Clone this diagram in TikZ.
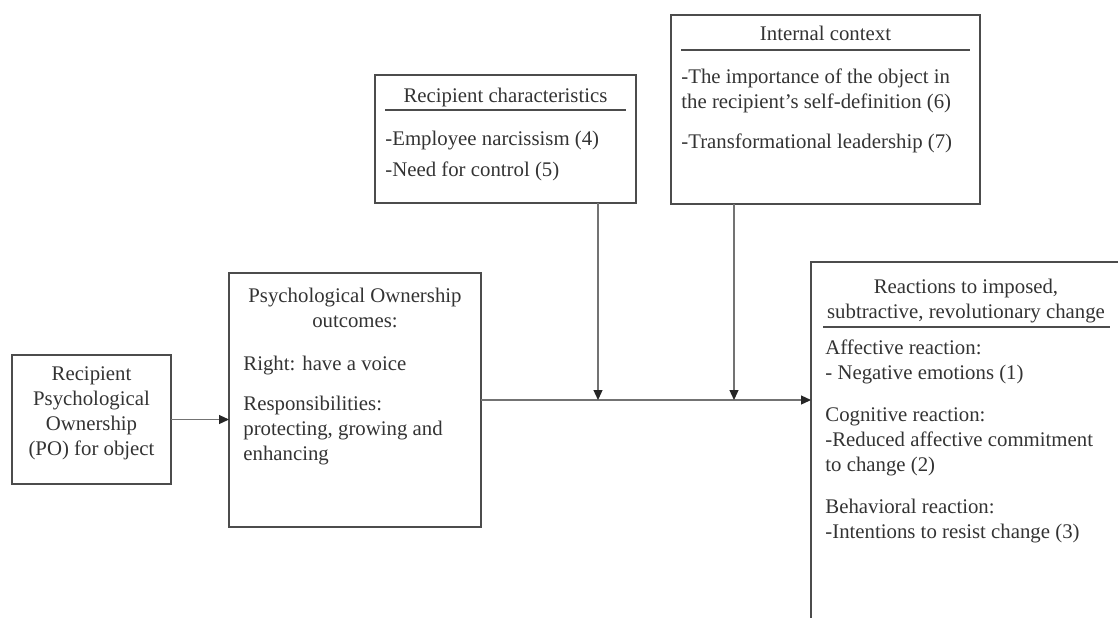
\documentclass[tikz,border=0pt]{standalone}
\usepackage{fontspec}
\setmainfont{Liberation Serif}
\usetikzlibrary{arrows.meta,fit}
\definecolor{linegray}{gray}{0.3}
\definecolor{arrowgray}{gray}{0.45}
\definecolor{textgray}{gray}{0.2}

\begin{document}
\begin{tikzpicture}[
    x=0.5pt, y=-0.5pt,
    box/.style={draw=linegray, line width=0.7pt, inner sep=0pt, outer sep=0pt},
    txt/.style={text=textgray, inner sep=0pt, font=\fontsize{10.4}{12.5}\selectfont},
    heading/.style={txt, align=center, anchor=north},
    items/.style={txt, align=left, anchor=north west},
    rule/.style={draw=linegray, line width=0.6pt},
    arrow/.style={draw=arrowgray, line width=0.6pt,
        -{Triangle[length=5pt,width=4.5pt,color=black!85]}}
]
\useasboundingbox (0,0) rectangle (1118,617);
\clip (0,0) rectangle (1118,617);

% ownership of the object
\node[box, fit={(12,355) (171,484)}] (po) {};
\node[heading] (potext) at (91.5,366) {Recipient\\Psychological\\Ownership\\(PO) for object};

% outcomes of ownership
\node[box, fit={(229,273) (481,527)}] (outcomes) {};
\node[heading] (outhead) at (355,288) {Psychological Ownership\\outcomes:};
\node[items] (outbody) at (243,356) {Right: have a voice\\[7.5pt]
    Responsibilities:\\protecting, growing and\\enhancing};

% moderators
\node[box, fit={(375,75) (636,203)}] (chars) {};
\node[heading] (charshead) at (505.5,88) {Recipient characteristics};
\draw[rule] (385,110) -- (626,110);
\node[items] (charsbody) at (385,131) {-Employee narcissism (4)\\[3pt] -Need for control (5)};

\node[box, fit={(671,15) (980,204)}] (context) {};
\node[heading] (contexthead) at (825.5,26) {Internal context};
\draw[rule] (681,50) -- (970,50);
\node[items] (contextbody) at (681,68) {-The importance of the object in\\the recipient’s self-definition (6)\\[7.5pt]
    -Transformational leadership (7)};

% reactions
\node[box, fit={(811,262) (1140,640)}] (reactions) {};
\node[heading] (reacthead) at (966,279) {Reactions to imposed,\\subtractive, revolutionary change};
\draw[rule] (823,327) -- (1110,327);
\node[items] (reactbody) at (825,339) {Affective reaction:\\- Negative emotions (1)\\[8.5pt]
    Cognitive reaction:\\-Reduced affective commitment\\to change (2)\\[8.5pt]
    Behavioral reaction:\\-Intentions to resist change (3)};

\coordinate (m1) at (598,400);
\coordinate (m2) at (734,400);

\draw[arrow] (po.east) -- (po.east -| outcomes.west);
\draw[arrow] (outcomes.east) -- (outcomes.east -| reactions.west);
\draw[arrow] (chars.south -| m1) -- (m1);
\draw[arrow] (context.south -| m2) -- (m2);
\end{tikzpicture}
\end{document}
